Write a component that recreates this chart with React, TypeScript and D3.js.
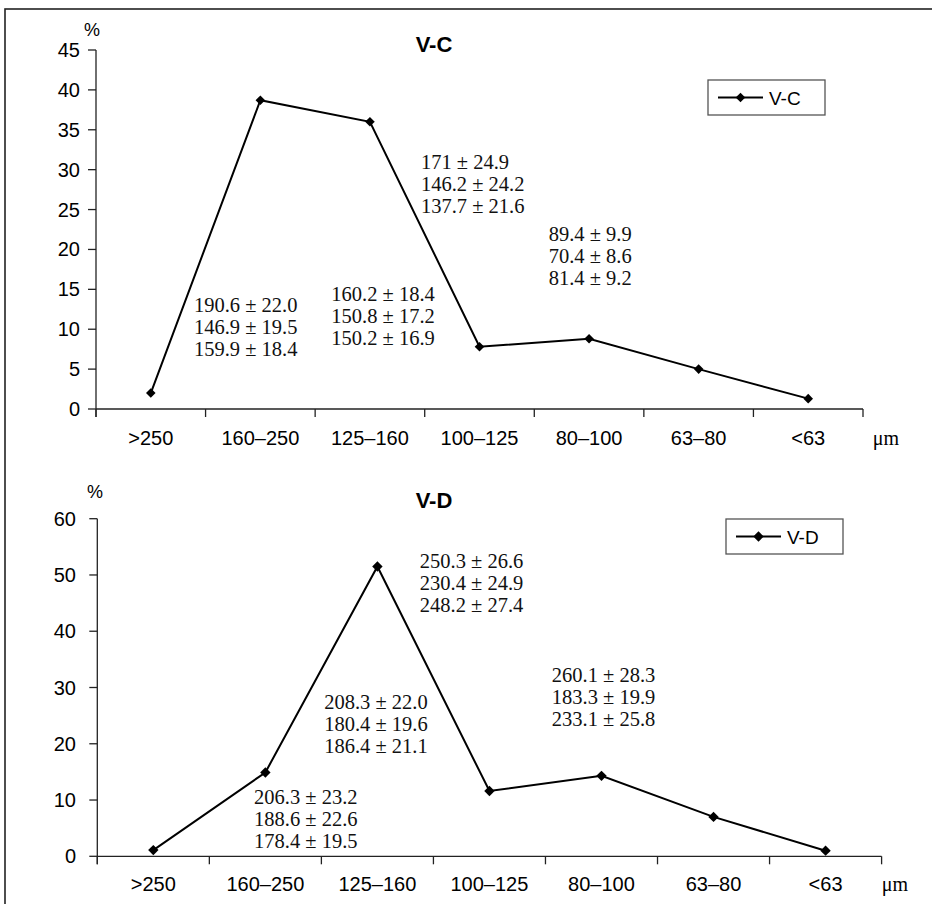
import React from 'react';
import * as d3 from 'd3';

// size fractions, shared by both panels
const categories = ['>250', '160–250', '125–160', '100–125', '80–100', '63–80', '<63'];

const vcValues = [2.0, 38.7, 36.0, 7.8, 8.8, 5.0, 1.3];
const vdValues = [1.1, 14.9, 51.5, 11.6, 14.3, 7.0, 1.0];

const vcTicks = [0, 5, 10, 15, 20, 25, 30, 35, 40, 45];
const vdTicks = [0, 10, 20, 30, 40, 50, 60];

const vcNotes = [
  ['190.6 ± 22.0', '146.9 ± 19.5', '159.9 ± 18.4'],
  ['160.2 ± 18.4', '150.8 ± 17.2', '150.2 ± 16.9'],
  ['171 ± 24.9', '146.2 ± 24.2', '137.7 ± 21.6'],
  ['89.4 ± 9.9', '70.4 ± 8.6', '81.4 ± 9.2'],
];
const vdNotes = [
  ['206.3 ± 23.2', '188.6 ± 22.6', '178.4 ± 19.5'],
  ['208.3 ± 22.0', '180.4 ± 19.6', '186.4 ± 21.1'],
  ['250.3 ± 26.6', '230.4 ± 24.9', '248.2 ± 27.4'],
  ['260.1 ± 28.3', '183.3 ± 19.9', '233.1 ± 25.8'],
];

// where the note blocks sit, in (band index, % value) units
const vcNoteAt = [[0.894, 12.2], [2.148, 13.5], [2.965, 30.05], [4.132, 21.06]];
const vdNoteAt = [[1.399, 9.35], [2.025, 26.1], [2.878, 51.3], [4.057, 30.9]];

const SANS = 'Liberation Sans, Arial, sans-serif';
const SERIF = 'Liberation Serif, Times New Roman, serif';

function Panel(props) {
  const { title, values, ticks, notes, noteAt, left, right, top, bottom, lab, leg } = props;
  const yMax = ticks[ticks.length - 1];

  const x = d3.scaleBand().domain(categories).range([left, right]);
  const xi = d3.scaleLinear().domain([0, categories.length]).range([left, right]);
  const y = d3.scaleLinear().domain([0, yMax]).range([bottom, top]);

  const pts = values.map((v, i) => [x(categories[i]) + x.bandwidth() / 2, y(v)]);
  const line = d3.line();
  const diamond = d3.symbol(d3.symbolSquare, props.mark)();

  const bounds = categories.map(c => x(c)).concat([right]);

  return (
    <g>
      <text x={lab.pctX} y={lab.pctY} fontFamily={SANS} fontSize={18} textAnchor="middle">%</text>
      <text x={434} y={lab.titleY} fontFamily={SANS} fontSize={22} fontWeight="bold" textAnchor="middle">{title}</text>

      {/* y axis */}
      <line x1={left} x2={left} y1={top} y2={bottom + 8} stroke="#222" strokeWidth={1.3} />
      {ticks.map(t => (
        <g key={t}>
          <line x1={left - 8} x2={left} y1={y(t)} y2={y(t)} stroke="#222" strokeWidth={1.3} />
          <text x={lab.yLabX} y={y(t) + 7} fontFamily={SANS} fontSize={20} textAnchor="end">{t}</text>
        </g>
      ))}

      {/* x axis */}
      <line x1={left} x2={right} y1={bottom} y2={bottom} stroke="#222" strokeWidth={1.3} />
      {bounds.map((b, i) => (
        <line key={i} x1={b} x2={b} y1={bottom} y2={bottom + 8} stroke="#222" strokeWidth={1.3} />
      ))}
      {categories.map(c => (
        <text key={c} x={x(c) + x.bandwidth() / 2} y={lab.xLabY} fontFamily={SANS} fontSize={20} textAnchor="middle">{c}</text>
      ))}
      <text x={lab.umX} y={lab.xLabY} fontFamily={SERIF} fontSize={20} textAnchor="middle">μm</text>

      {/* series */}
      <path d={line(pts)} fill="none" stroke="#000" strokeWidth={2} />
      {pts.map((p, i) => (
        <path key={i} d={diamond} transform={`translate(${p[0]},${p[1]}) rotate(45)`} fill="#000" />
      ))}

      {/* note blocks */}
      {notes.map((n, i) => (
        <text key={i} fontFamily={SERIF} fontSize={20.5} fill="#111">
          {n.map((s, j) => (
            <tspan key={j} x={xi(noteAt[i][0])} y={y(noteAt[i][1]) + j * 22}>{s}</tspan>
          ))}
        </text>
      ))}

      {/* legend */}
      <rect x={leg.x} y={leg.y} width={leg.w} height={leg.h} fill="#fff" stroke="#555" strokeWidth={1.3} />
      <line x1={leg.x + 10} x2={leg.x + 55} y1={leg.y + leg.h / 2} y2={leg.y + leg.h / 2} stroke="#000" strokeWidth={2} />
      <path d={diamond} transform={`translate(${leg.x + 32.5},${leg.y + leg.h / 2}) rotate(45)`} fill="#000" />
      <text x={leg.x + 61} y={leg.y + leg.h / 2 + 7} fontFamily={SANS} fontSize={19}>{title}</text>
    </g>
  );
}

export default function App() {
  return (
    <svg width={932} height={904} style={{ position: 'absolute', left: 0, top: 0, background: '#fff' }}>
      <rect x={0} y={0} width={932} height={904} fill="#fff" />
      <rect x={5} y={9} width={960} height={940} fill="none" stroke="#222" strokeWidth={1.6} />
      <Panel
        title="V-C"
        values={vcValues}
        ticks={vcTicks}
        notes={vcNotes}
        noteAt={vcNoteAt}
        left={96}
        right={863}
        top={50}
        bottom={409}
        mark={46}
        lab={{ pctX: 92, pctY: 36, titleY: 52, yLabX: 80, xLabY: 445, umX: 886 }}
        leg={{ x: 708, y: 80, w: 117, h: 35 }}
      />
      <Panel
        title="V-D"
        values={vdValues}
        ticks={vdTicks}
        notes={vdNotes}
        noteAt={vdNoteAt}
        left={97.3}
        right={881.6}
        top={518.7}
        bottom={856.3}
        mark={54}
        lab={{ pctX: 95, pctY: 498, titleY: 508, yLabX: 76, xLabY: 891, umX: 895 }}
        leg={{ x: 726, y: 519, w: 117, h: 35 }}
      />
    </svg>
  );
}
